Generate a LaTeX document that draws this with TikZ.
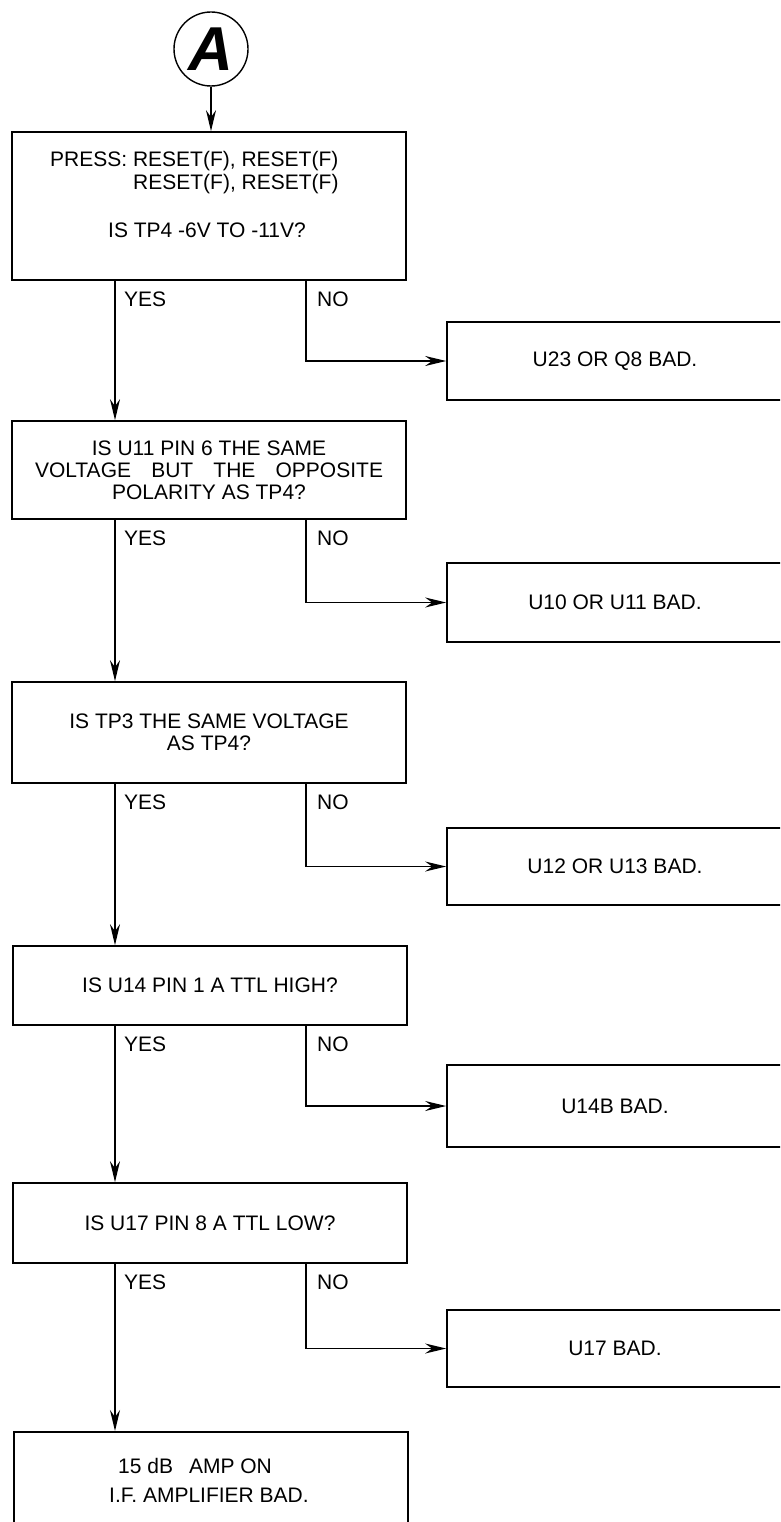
\documentclass[tikz,border=0pt]{standalone}
\usepackage{fontspec}
\setmainfont{Liberation Sans}
\usetikzlibrary{arrows.meta}
\newcommand\myfs{\fontsize{21}{22}\selectfont}
\begin{document}
\begin{tikzpicture}[x=1pt,y=-1pt,
  box/.style={draw,line width=1.7pt,minimum width=394pt,inner sep=0pt,font=\myfs,align=center},
  rbox/.style={draw,line width=1.7pt,minimum width=336pt,inner sep=0pt,font=\myfs,align=center},
  lbl/.style={font=\myfs,anchor=base west,inner sep=0pt},
  txt/.style={font=\myfs,inner sep=0pt},
  arr/.style={line width=1.4pt,-{Stealth[length=21pt,width=10pt,inset=7pt]}}]
\useasboundingbox (0,0) rectangle (780,1522);
\clip (0,0) rectangle (780,1522);
\coordinate (yx) at (115,0);
\coordinate (nx) at (306,0);
% start
\node[circle,draw,line width=1.4pt,minimum size=74pt,inner sep=0pt] (A) at (211,49)
  {\fontsize{62}{62}\selectfont\bfseries\itshape A};
% left column
\node[box,minimum height=148pt] (b1) at (209,206) {};
\node[txt,anchor=base west] (b1t1) at (50,167) {PRESS: RESET(F), RESET(F)};
\node[txt,anchor=base west] (b1t2) at (133,190) {RESET(F), RESET(F)};
\node[txt,anchor=base] (b1t3) at (207,237) {IS TP4 -6V TO -11V?};
\node[box,minimum height=98pt] (b2) at (209,470)
  {IS U11 PIN 6 THE SAME\\\makebox[348pt][s]{VOLTAGE BUT THE OPPOSITE}\\POLARITY AS TP4?};
\node[box,minimum height=101pt] (b3) at (209,732.5) {IS TP3 THE SAME VOLTAGE\\AS TP4?};
\node[box,minimum height=79pt] (b4) at (210,985.5) {IS U14 PIN 1 A TTL HIGH?};
\node[box,minimum height=80pt] (b5) at (210,1223) {IS U17 PIN 8 A TTL LOW?};
\node[box,minimum height=150pt,anchor=north] (b6) at (211,1431) {};
\node[txt,anchor=base west] (b6t1) at (118,1473) {15 dB\hspace{16pt}AMP ON};
\node[txt,anchor=base west] (b6t2) at (109,1502) {I.F. AMPLIFIER BAD.};
% right column
\node[rbox,minimum height=78pt] (r1) at (615,361) {U23 OR Q8 BAD.};
\node[rbox,minimum height=79pt] (r2) at (615,602.5) {U10 OR U11 BAD.};
\node[rbox,minimum height=77pt] (r3) at (615,866.5) {U12 OR U13 BAD.};
\node[rbox,minimum height=82pt] (r4) at (615,1106) {U14B BAD.};
\node[rbox,minimum height=77pt] (r5) at (615,1348.5) {U17 BAD.};
% connectors
\draw[arr] (A.south) -- (A.south |- b1.north);
\foreach \u/\d/\r in {b1/b2/r1,b2/b3/r2,b3/b4/r3,b4/b5/r4,b5/b6/r5}{
  \draw[arr] (\u.south -| yx) -- (\d.north -| yx);
  \draw[arr] (\u.south -| nx) |- (\r.west);
  \node[lbl] (yes\u) at ([xshift=9pt,yshift=-26pt]\u.south -| yx) {YES};
  \node[lbl] (no\u) at ([xshift=11pt,yshift=-26pt]\u.south -| nx) {NO};
}
\end{tikzpicture}
\end{document}
